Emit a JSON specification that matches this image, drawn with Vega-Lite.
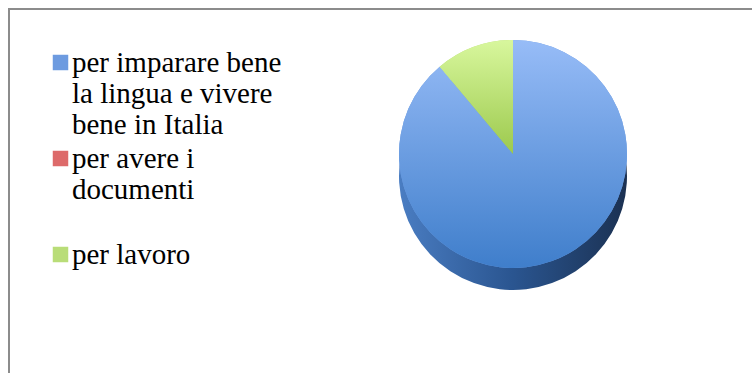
{
  "$schema": "https://vega.github.io/schema/vega-lite/v6.json",
  "width": 745,
  "height": 366,
  "autosize": {"type": "none"},
  "padding": {"left": 9, "top": 9, "right": 0, "bottom": 0},
  "background": "white",
  "view": {"stroke": "#8c8c8c", "strokeWidth": 2},
  "data": {
    "values": [
      {"cat": "per imparare bene la lingua e vivere bene in Italia", "value": 8, "ord": 1},
      {"cat": "per avere i documenti", "value": 0, "ord": 2},
      {"cat": "per lavoro", "value": 1, "ord": 3}
    ]
  },
  "layer": [
    {
      "mark": {
        "type": "arc", "x": 504, "y": 145, "yOffset": 22, "outerRadius": 114,
        "fill": {"gradient": "linear", "x1": 0, "y1": 0, "x2": 1, "y2": 0,
          "stops": [{"offset": 0, "color": "#4a7dc2"}, {"offset": 0.5, "color": "#2a5590"}, {"offset": 1, "color": "#1b3152"}]}
      },
      "encoding": {
        "theta": {"field": "value", "type": "quantitative", "stack": true},
        "order": {"field": "ord", "type": "quantitative"}
      }
    },
    {
      "mark": {"type": "arc", "x": 504, "y": 145, "outerRadius": 114},
      "encoding": {
        "theta": {"field": "value", "type": "quantitative", "stack": true},
        "order": {"field": "ord", "type": "quantitative"},
        "color": {
          "field": "cat", "type": "nominal",
          "scale": {
            "domain": ["per imparare bene la lingua e vivere bene in Italia", "per avere i documenti", "per lavoro"],
            "range": ["#6d9be0", "#dd6a6a", "#b9dd78"]
          },
          "legend": {
            "title": null,
            "orient": "none",
            "legendX": 37,
            "legendY": 39,
            "padding": 0,
            "symbolType": "square",
            "symbolSize": 240,
            "symbolStrokeWidth": 0,
            "symbolOpacity": 1,
            "labelFont": "Liberation Serif",
            "labelFontSize": 29,
            "labelColor": "#000000",
            "labelLimit": 400,
            "labelBaseline": "middle",
            "labelOffset": -3,
            "rowPadding": 4,
            "labelExpr": "datum.value == 'per lavoro' ? 'per lavoro' : datum.value == 'per avere i documenti' ? ['per avere i', 'documenti', ''] : ['per imparare bene', 'la lingua e vivere', 'bene in Italia']"
          }
        }
      }
    },
    {
      "mark": {"type": "arc", "x": 504, "y": 145, "outerRadius": 114},
      "encoding": {
        "theta": {"field": "value", "type": "quantitative", "stack": true},
        "order": {"field": "ord", "type": "quantitative"},
        "fill": {
          "condition": {
            "test": "datum.cat == 'per lavoro'",
            "value": {"gradient": "linear", "x1": 0, "y1": 0, "x2": 0, "y2": 1,
              "stops": [{"offset": 0, "color": "#d8f79d"}, {"offset": 1, "color": "#9cc94d"}]}
          },
          "value": {"gradient": "linear", "x1": 0, "y1": 0, "x2": 0, "y2": 1,
            "stops": [{"offset": 0, "color": "#97bcf7"}, {"offset": 1, "color": "#3f7ecb"}]}
        }
      }
    }
  ],
  "config": {
    "view": {"stroke": "#8c8c8c", "strokeWidth": 2, "strokeDash": [745, 1111, 366]}
  }
}
